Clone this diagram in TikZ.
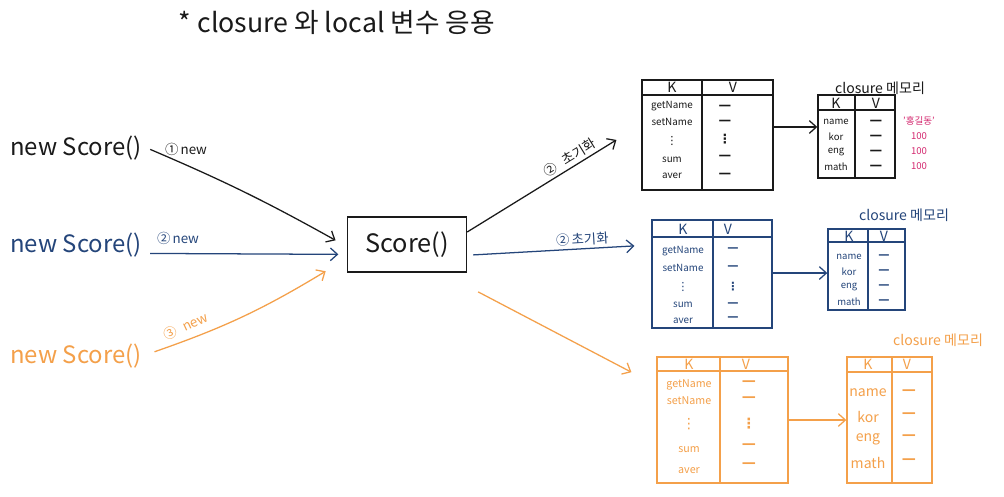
\documentclass[tikz,border=0pt]{standalone}
\usepackage{fontspec}
\setmainfont{Noto Sans CJK KR}
\newfontfamily\dashfont{DejaVu Sans}
\usetikzlibrary{arrows.meta,fit,calc}
\definecolor{ink}{HTML}{1A1A1A}
\definecolor{navy}{HTML}{24457A}
\definecolor{orng}{HTML}{F4A04A}
\definecolor{pinkish}{HTML}{D4286F}
\newcommand{\tbox}[8]{%
  \node[draw=#2, line width=1pt, inner sep=0, fit={(#3,#4) (#5,#6)}] (#1) {};
  \draw[#2, line width=1pt] (#3,#7) -- (#5,#7) (#8,#4) -- (#8,#6);}
\newcommand{\tcol}[5]{%
  \foreach \t/\y [count=\i] in {#5}
    \node[text=#2, font=#3, inner sep=0] (#1\i) at (#4,\y) {\t};}
\begin{document}
\begin{tikzpicture}[x=0.025cm,y=-0.025cm,
  arr/.style={-{Straight Barb[length=5pt,width=9pt]}, line width=0.9pt},
  big/.style={font=\fontsize{17}{19}\selectfont, inner sep=0},
  lab/.style={font=\fontsize{9.5}{11}\selectfont, inner sep=0},
  memo/.style={font=\fontsize{10}{12}\selectfont, inner sep=0}]
\useasboundingbox (0,0) rectangle (1004,496);
\fill[white] (0,0) rectangle (1004,496);

% title
\node[font=\fontsize{19}{22}\selectfont, inner sep=0, text=ink] (title) at (337,22) {* closure 와 local 변수 응용};

% left texts
\node[big, text=ink, anchor=west] (n1) at (10,148) {new Score()};
\node[big, text=navy, anchor=west] (n2) at (10,245) {new Score()};
\node[big, text=orng, anchor=west] (n3) at (10,356) {new Score()};

% Score box
\node[draw=ink, line width=1pt, minimum width=119*0.025cm, minimum height=55*0.025cm,
      font=\fontsize{18}{20}\selectfont, text=ink] (score) at (407,244.5) {Score()};

% input arrows
\node[lab, text=ink] (l1) at (186,149) {①\,new};
\node[lab, text=navy] (l2) at (178,238) {②\,new};
\node[lab, text=orng, rotate=25] (l3) at (186,326) {③\hspace{5pt}new};
\draw[arr, ink] ([xshift=6pt,yshift=-1pt]n1.east) to[bend left=3] ([xshift=-8pt,yshift=3pt]score.west);
\draw[arr, navy] ([xshift=6pt,yshift=-6pt]n2.east) -- ([xshift=-6pt,yshift=-7pt]score.west);
\draw[arr, orng] ([xshift=9pt,yshift=3pt]n3.east) to[bend right=6] ([xshift=-15pt,yshift=-19pt]score.west);

% tables: black
\tbox{t1}{ink}{642}{80}{773}{190}{95}{702}
\node[memo, text=ink] (t1k) at (672,87) {K};
\node[memo, text=ink] (t1v) at (733,87) {V};
\tcol{t1a}{ink}{\fontsize{7}{8}\selectfont}{672}{getName/106, setName/122, sum/160, aver/176}
\tcol{t1b}{ink}{\dashfont\fontsize{8}{9}\selectfont}{672}{⋮/141}
\tcol{t1c}{ink}{\dashfont\bfseries\fontsize{9}{10}\selectfont}{725}{—/107, —/122, ⋮/139, —/157, —/175}

\node[memo, text=ink] (c1l) at (880,88) {closure 메모리};
\tbox{c1}{ink}{818}{95}{895}{178}{110}{855}
\node[memo, text=ink] (c1k) at (836,103) {K};
\node[memo, text=ink] (c1v) at (876,103) {V};
\tcol{c1a}{ink}{\fontsize{6.8}{8}\selectfont}{836}{name/122, kor/137, eng/152, math/167}
\tcol{c1b}{ink}{\dashfont\bfseries\fontsize{9}{10}\selectfont}{876}{—/122, —/137, —/152, —/167}
\tcol{p1}{pinkish}{\fontsize{6.8}{8}\selectfont}{919}{'홍길동'/121, 100/136, 100/151, 100/166}
\draw[arr, ink] ([yshift=5.7pt]t1.east) -- ([yshift=5.7pt]t1.east -| c1.west);

% tables: blue
\tbox{t2}{navy}{652}{220}{772}{328}{237}{713}
\node[memo, text=navy] (t2k) at (683,229) {K};
\node[memo, text=navy] (t2v) at (728,229) {V};
\tcol{t2a}{navy}{\fontsize{7}{8}\selectfont}{683}{getName/251, setName/268, sum/305, aver/321}
\tcol{t2b}{navy}{\dashfont\fontsize{8}{9}\selectfont}{683}{⋮/287}
\tcol{t2c}{navy}{\dashfont\bfseries\fontsize{8}{9}\selectfont}{733}{—/250, —/268, ⋮/287, —/305, —/319}

\node[memo, text=navy] (c2l) at (904,215) {closure 메모리};
\tbox{c2}{navy}{828}{229}{905}{310}{242}{868}
\node[memo, text=navy] (c2k) at (849,236) {K};
\node[memo, text=navy] (c2v) at (884,236) {V};
\tcol{c2a}{navy}{\fontsize{6.8}{8}\selectfont}{849}{name/257, kor/272, eng/287, math/302}
\tcol{c2b}{navy}{\dashfont\bfseries\fontsize{8}{9}\selectfont}{884}{—/257, —/272, —/287, —/302}
\draw[arr, navy] ([yshift=0.7pt]t2.east) -- ([yshift=0.7pt]t2.east -| c2.west);

% tables: orange
\tbox{t3}{orng}{657}{357}{788}{483}{371}{720}
\node[memo, text=orng] (t3k) at (689,364) {K};
\node[memo, text=orng] (t3v) at (746,364) {V};
\tcol{t3a}{orng}{\fontsize{7.6}{9}\selectfont}{689}{getName/385, setName/401, sum/450, aver/471}
\tcol{t3b}{orng}{\dashfont\fontsize{10}{11}\selectfont}{689}{⋮/424}
\tcol{t3c}{orng}{\dashfont\bfseries\fontsize{10}{11}\selectfont}{749}{—/383, —/399, ⋮/424, —/446, —/465}

\node[memo, text=orng] (c3l) at (938,340) {closure 메모리};
\tbox{c3}{orng}{847}{357}{932}{483}{372}{892}
\node[memo, text=orng] (c3k) at (868,364) {K};
\node[memo, text=orng] (c3v) at (907,364) {V};
\tcol{c3a}{orng}{\fontsize{10}{12}\selectfont}{868}{name/393, kor/417, eng/439, math/463}
\tcol{c3b}{orng}{\dashfont\bfseries\fontsize{10}{11}\selectfont}{909}{—/392, —/415, —/437, —/461}
\draw[arr, orng] (t3.east) -- (t3.east -| c3.west);

% output arrows
\draw[arr, ink] ([yshift=8.9pt]score.east) -- ([xshift=-17.7pt,yshift=-3.5pt]t1.west)
  node[pos=0.72, above, sloped, lab, inner sep=2pt] (o1) {②\hspace{6pt}초기화};
\draw[arr, navy] ([xshift=4.3pt,yshift=-7.4pt]score.east) -- ([xshift=-12pt,yshift=20pt]t2.west)
  node[pos=0.68, above, sloped, lab, inner sep=2pt] (o2) {②\,초기화};
\draw[arr, orng] ([xshift=7.8pt,yshift=-33.7pt]score.east) -- ([xshift=-17.7pt,yshift=34pt]t3.west);
\end{tikzpicture}
\end{document}
